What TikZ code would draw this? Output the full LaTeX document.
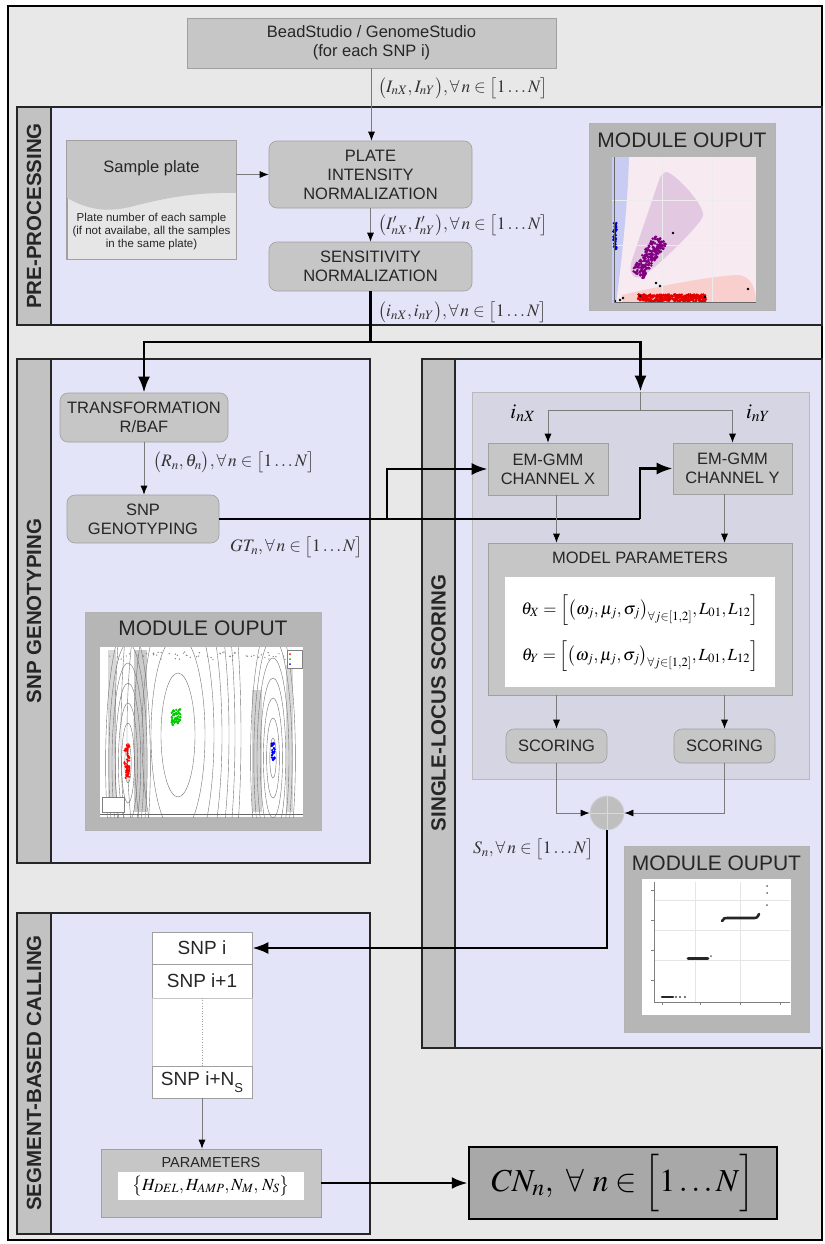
\documentclass[tikz,border=0pt]{standalone}
\usepackage{mathptmx}
\usepackage[no-math]{fontspec}
\setmainfont{Liberation Sans}
\usetikzlibrary{arrows.meta,calc}
\definecolor{outerbg}{HTML}{E8E8E8}
\definecolor{panelbg}{HTML}{E4E4F8}
\definecolor{stripc}{HTML}{C2C2C2}
\definecolor{boxc}{HTML}{C6C6C6}
\definecolor{boxb}{HTML}{A0A0A0}
\definecolor{innerc}{HTML}{D5D5E3}
\definecolor{modc}{HTML}{B6B6B6}
\definecolor{cnc}{HTML}{A8A8A8}
\definecolor{linec}{HTML}{7A7A7A}
\definecolor{lightdoc}{HTML}{E6E6E6}
\definecolor{p1bg}{HTML}{F7EAF1}
\definecolor{p1blue}{HTML}{C9CCF2}
\definecolor{p1purple}{HTML}{E3C8E2}
\definecolor{p1red}{HTML}{F8CFCC}
\definecolor{dotpurple}{HTML}{800080}
\begin{document}
\begin{tikzpicture}[x=1pt,y=-1pt,
 panel/.style={fill=panelbg,draw=black!85,line width=1.6pt},
 strip/.style={fill=stripc,draw=black!85,line width=1.6pt},
 striplabel/.style={rotate=90,font=\fontsize{20.5}{24}\selectfont\bfseries,text=black!85,inner sep=0pt},
 procbox/.style={fill=boxc,draw=boxb,line width=0.6pt,rounded corners=8pt,align=center,font=\fontsize{16.5}{19}\selectfont,text=black!85,inner sep=0pt},
 sqbox/.style={fill=boxc,draw=boxb,line width=0.6pt,align=center,font=\fontsize{16.5}{19}\selectfont,text=black!85,inner sep=0pt},
 snpbox/.style={fill=white,draw=boxb,line width=0.5pt,font=\fontsize{19}{22}\selectfont,text=black!85,inner sep=0pt,minimum width=100pt},
 modframe/.style={fill=modc,draw=boxb!80,line width=0.6pt,inner sep=0pt},
 modtitle/.style={font=\fontsize{21}{24}\selectfont,text=black!85,inner sep=0pt},
 thinline/.style={draw=linec,line width=0.8pt},
 thinarrow/.style={draw=linec,line width=0.8pt,-{Latex[length=9pt,width=7pt,black]}},
 thickline/.style={draw=black,line width=2.8pt},
 thickarrow/.style={draw=black,line width=2.8pt,-{Latex[length=16pt,width=12pt]}},
 lab/.style={font=\fontsize{17.5}{20}\selectfont,anchor=west,inner sep=0pt,text=black!80},
 contour/.style={draw=black!55,line width=0.4pt}
]
\useasboundingbox (0,0) rectangle (824,1244);
\fill[white] (0,0) rectangle (824,1244);
% outer frame
\draw[fill=outerbg,line width=2.5pt] (8,6) rectangle (822,1240);

% ---------------- panels ----------------
\draw[panel] (17,107) rectangle (822,325);
\draw[strip] (17,107) rectangle (51,325);
\node[striplabel] (lpre) at (34,216) {PRE-PROCESSING};

\draw[panel] (17,359) rectangle (370,863);
\draw[strip] (17,359) rectangle (51,863);
\node[striplabel] (lsnp) at (34,611) {SNP GENOTYPING};

\draw[panel] (422,359) rectangle (822,1048);
\draw[strip] (422,359) rectangle (455,1048);
\node[striplabel] (lslc) at (438.5,703) {SINGLE-LOCUS SCORING};

\draw[panel] (17,913) rectangle (370,1234);
\draw[strip] (17,913) rectangle (51,1234);
\node[striplabel] (lseg) at (34,1073) {SEGMENT-BASED CALLING};

% ---------------- top & pre-processing ----------------
\node[sqbox,minimum width=369pt,minimum height=50pt] (top) at (371.5,43) {BeadStudio / GenomeStudio\\(for each SNP i)};
\node[lab] (l1) at (378,88) {$\bigl(I_{nX},I_{nY}\bigr),\forall\, n\in\bigl[1\ldots N\bigr]$};

\node[procbox,minimum width=203pt,minimum height=67pt] (plate) at (370.5,174.5) {PLATE\\INTENSITY\\NORMALIZATION};
\node[procbox,minimum width=203pt,minimum height=49pt] (sens) at (370.5,266.5) {SENSITIVITY\\NORMALIZATION};
\node[lab] (l2) at (378,225) {$\bigl(I'_{nX},I'_{nY}\bigr),\forall\, n\in\bigl[1\ldots N\bigr]$};
\node[lab] (l3) at (378,312) {$\bigl(i_{nX},i_{nY}\bigr),\forall\, n\in\bigl[1\ldots N\bigr]$};

% sample plate (document shape)
\node[fill=lightdoc,draw=boxb,line width=0.6pt,minimum width=169pt,minimum height=118pt,inner sep=0pt] (sample) at (151.5,200) {};
\fill[boxc] (67,141) -- (236,141) -- (236,193) .. controls (195,192) and (165,198) .. (130,207) .. controls (100,214) and (82,206) .. (67,198) -- cycle;
\draw[boxb,line width=0.6pt] (sample.north west) rectangle (sample.south east);
\node[font=\fontsize{16.5}{19}\selectfont,text=black!85] (sptitle) at (151.5,168) {Sample plate};
\node[font=\fontsize{11.5}{13}\selectfont,text=black!85,align=center] (sptext) at (151.5,232) {Plate number of each sample\\(if not availabe, all the samples\\in the same plate)};

\draw[thinarrow] (top.south) -- (top.south |- plate.north);
\draw[thinarrow] (sample.east |- plate.west) -- (plate.west);
\draw[thinarrow] (plate.south) -- (sens.north);

% module output 1
\node[modframe,minimum width=186pt,minimum height=187pt] (mod1) at (682,216.5) {};
\node[modtitle] (mod1t) at (682,140) {MODULE OUPUT};
\begin{scope}
\clip (612,157) rectangle (756,303);
\fill[p1bg] (612,157) rectangle (756,303);
\fill[p1blue] (612,157) -- (629,157) .. controls (628,200) and (622,260) .. (616,303) -- (612,303) -- cycle;
\fill[p1purple] (666,172) .. controls (674,172) and (705,205) .. (703,216) .. controls (700,226) and (652,272) .. (641,277) .. controls (632,280) and (628,270) .. (632,260) -- (659,180) .. controls (661,175) .. (666,172) -- cycle;
\fill[p1red] (622,295) .. controls (660,286) and (700,278) .. (735,275) .. controls (752,274) and (756,290) .. (756,303) -- (622,303) -- cycle;
\draw[white!85!gray,line width=0.5pt] (662,157) -- (662,303) (712,157) -- (712,303) (612,245) -- (756,245) (612,200) -- (756,200);
\pgfmathsetseed{7}
\foreach \i in {1,...,45}{\fill[blue!85!black] ({615+1.8*rand},{236+13*rand}) circle[radius=1.3];}
\foreach \i in {1,...,220}{\pgfmathsetmacro\tt{rand}\pgfmathsetmacro\ss{rand}\fill[dotpurple] ({649+12*\tt+6*\ss},{257-18*\tt+4*\ss}) circle[radius=1.4];}
\foreach \i in {1,...,330}{\pgfmathsetmacro\tt{rand}\fill[red!90!black] ({672+34*\tt},{298+3.5*rand}) circle[radius=1.4];}
\foreach \p in {(615,301),(620,300),(623,298),(656,283),(660,286),(673,233),(705,297),(748,289),(640,296)}{\fill[black] \p circle[radius=1.3];}
\draw[black!60,line width=0.5pt] (614,157) -- (614,302) -- (756,302);
\end{scope}

% bus
\coordinate (bus) at (370.5,342);
\draw[thickline] (sens.south) -- (bus);

% ---------------- SNP genotyping ----------------
\node[procbox,minimum width=168pt,minimum height=49pt] (trans) at (144,417.5) {TRANSFORMATION\\R/BAF};
\node[procbox,minimum width=152pt,minimum height=48pt] (snpg) at (143,519) {SNP\\GENOTYPING};
\draw[thinarrow] (trans.south) -- (trans.south |- snpg.north);
\node[lab] (l4) at (153,462) {$\bigl(R_n,\theta_n\bigr),\forall\, n\in\bigl[1\ldots N\bigr]$};
\node[lab] (l5) at (230,547) {$GT_n,\forall\, n\in\bigl[1\ldots N\bigr]$};

% module output 2
\node[modframe,minimum width=236pt,minimum height=218pt] (mod2) at (203,721) {};
\node[modtitle] (mod2t) at (203,628) {MODULE OUPUT};
\begin{scope}
\clip (100,647) rectangle (303,817);
\fill[white] (100,647) rectangle (303,817);
\fill[gray!40] (134,650) rectangle (147,812);
\fill[gray!30] (108,650) rectangle (116,812);
\fill[gray!35] (252,690) rectangle (262,812);
\fill[gray!30] (286,665) rectangle (293,812);
\foreach \r in {1,...,7}{\draw[contour] (128,763) ellipse [x radius={3.2*\r}, y radius={20*\r}];}
\foreach \rx/\ry in {17/62,27/100,36/140,44/180,51/220,57/260,63/300}{\draw[contour] (178,735) ellipse [x radius=\rx, y radius=\ry];}
\foreach \r in {1,...,7}{\draw[contour] (273,758) ellipse [x radius={3.2*\r}, y radius={20*\r}];}
\pgfmathsetseed{11}
\foreach \i in {1,...,60}{\fill[red] ({127+2.5*rand},{762+17*rand}) circle[radius=1.2];}
\foreach \i in {1,...,60}{\fill[green!80!black] ({176+4.5*rand},{717+8*rand}) circle[radius=1.2];}
\foreach \i in {1,...,30}{\fill[blue] ({273+1.8*rand},{752+9*rand}) circle[radius=1.2];}
\foreach \i in {1,...,60}{\fill[gray] ({105+190*rnd},{652+8*rnd}) circle[radius=0.7];}
\draw[black!50,line width=0.4pt,fill=white] (287,650) rectangle (302,668);
\fill[red] (290,654) circle[radius=1]; \fill[green!70!black] (290,659) circle[radius=1]; \fill[blue] (290,664) circle[radius=1];
\draw[black!50,line width=0.4pt,fill=white] (102,797) rectangle (124,812);
\draw[black!60,line width=0.4pt] (100,814) -- (303,814);
\end{scope}

% ---------------- single-locus scoring ----------------
\node[fill=innerc,draw=gray!55,line width=0.6pt,minimum width=337pt,minimum height=387pt,inner sep=0pt] (inner) at (640.5,585.5) {};
\draw[thickarrow] (bus) -| (trans.north);
\draw[thickarrow] (bus) -| (inner.north);

\node[sqbox,minimum width=120pt,minimum height=52pt] (emx) at (548,469) {EM-GMM\\CHANNEL X};
\node[sqbox,minimum width=119pt,minimum height=51pt] (emy) at (732.5,468.5) {EM-GMM\\CHANNEL Y};
\node[font=\fontsize{21}{22}\selectfont,inner sep=0pt] (inx) at (523,413) {$i_{nX}$};
\node[font=\fontsize{21}{22}\selectfont,inner sep=0pt] (iny) at (758,413) {$i_{nY}$};
\coordinate (split) at (640.5,410);
\draw[thinline] (inner.north) -- (split);
\draw[thinarrow] (split) -| (emx.north);
\draw[thinarrow] (split) -| (emy.north);

% GT connections
\coordinate (gtA) at (387,519);
\coordinate (gtB) at (640,519);
\draw[thickline] (snpg.east) -- (gtB);
\draw[thickarrow] (gtA) |- (emx.west);
\draw[thickarrow] (gtB) |- (emy.west);

\node[sqbox,minimum width=304pt,minimum height=152pt] (params) at (640,619) {};
\node[font=\fontsize{16.5}{19}\selectfont,text=black!85,inner sep=0pt] (paramst) at (640,558) {MODEL PARAMETERS};
\fill[white] (505,577) rectangle (775,687);
\node[font=\fontsize{17}{20}\selectfont,inner sep=0pt] (eqx) at (640,610) {$\theta_X = \Bigl[\bigl(\omega_j,\mu_j,\sigma_j\bigr)_{\forall j\in[1,2]},L_{01},L_{12}\Bigr]$};
\node[font=\fontsize{17}{20}\selectfont,inner sep=0pt] (eqy) at (640,656) {$\theta_Y = \Bigl[\bigl(\omega_j,\mu_j,\sigma_j\bigr)_{\forall j\in[1,2]},L_{01},L_{12}\Bigr]$};

\node[procbox,minimum width=101pt,minimum height=34pt] (scx) at (556.5,746) {SCORING};
\node[procbox,minimum width=101pt,minimum height=34pt] (scy) at (724.5,746) {SCORING};
\draw[thinarrow] (emx.south -| scx.north) -- (params.north -| scx.north);
\draw[thinarrow] (emy.south -| scy.north) -- (params.north -| scy.north);
\draw[thinarrow] (params.south -| scx.north) -- (scx.north);
\draw[thinarrow] (params.south -| scy.north) -- (scy.north);

\node[circle,fill=gray!50,draw=gray!35,line width=0.8pt,minimum size=34pt,inner sep=0pt] (sum) at (607,813) {};
\draw[gray!30,line width=0.6pt] (sum.north) -- (sum.south) (sum.west) -- (sum.east);
\draw[thinarrow] (scx.south) |- (sum.west);
\draw[thinarrow] (scy.south) |- (sum.east);
\node[lab] (l6) at (473,849) {$S_n,\forall\, n\in\bigl[1\ldots N\bigr]$};

% module output 3
\node[modframe,minimum width=185pt,minimum height=186pt] (mod3) at (716.5,939) {};
\node[modtitle] (mod3t) at (716.5,863) {MODULE OUPUT};
\begin{scope}
\clip (642,879) rectangle (791,1015);
\fill[white] (642,879) rectangle (791,1015);
\draw[gray!20,line width=0.4pt] (695,882) -- (695,1002) (740,882) -- (740,1002) (654,900) -- (790,900) (654,930) -- (790,930) (654,960) -- (790,960);
\draw[black!50,line width=0.5pt] (654,882) -- (654,1002) -- (790,1002);
\foreach \y in {890,920,950,980}{\draw[black!50,line width=0.4pt] (651,\y) -- (654,\y);}
\foreach \x in {662,700,740,780}{\draw[black!50,line width=0.4pt] (\x,1002) -- (\x,1005);}
\draw[black!85,line width=2.6pt,line cap=round] (662,997) -- (673,997);
\foreach \x in {676,680,685}{\fill[black!70] (\x,997) circle[radius=1.1];}
\draw[black!85,line width=2.6pt,line cap=round] (688,958.5) -- (708,958.5);
\fill[black!60] (711,956) circle[radius=1];
\draw[black!85,line width=2.6pt,line cap=round] (722,921) .. controls (724,918) .. (729,918) -- (752,918) .. controls (757,918) .. (759,914);
\foreach \y in {886,893,905}{\fill[black!60] (767,\y) circle[radius=1];}
\end{scope}

% ---------------- segment-based calling ----------------
\node[snpbox,minimum height=32pt] (snpi) at (202,948) {SNP i};
\node[snpbox,minimum height=34pt] (snpi1) at (202,981) {SNP i+1};
\node[fill=white,draw=boxb!60,line width=0.4pt,minimum width=100pt,minimum height=68pt,inner sep=0pt] (gap) at (202,1032) {};
\draw[boxb,dotted,line width=0.6pt] (gap.north) -- (gap.south);
\node[snpbox,minimum height=32pt] (snpiN) at (202,1082) {SNP i+N\raisebox{-0.35em}{\fontsize{13}{13}\selectfont S}};

\node[sqbox,minimum width=220pt,minimum height=68pt] (paramsB) at (211,1183) {};
\node[font=\fontsize{14.5}{17}\selectfont,text=black!85,inner sep=0pt] (paramsBt) at (211,1162) {PARAMETERS};
\fill[white] (118,1172) rectangle (304,1200);
\node[font=\fontsize{17}{20}\selectfont,inner sep=0pt] (eqBt) at (211,1186) {$\bigl\{H_{DEL},H_{AMP},N_M,\,N_S\bigr\}$};
\draw[thinarrow] (snpiN.south) -- (snpiN.south |- paramsB.north);

\node[fill=cnc,draw=black,line width=2.5pt,minimum width=308pt,minimum height=72pt,inner sep=0pt,font=\fontsize{32}{36}\selectfont] (cn) at (623,1183) {$CN_n,\ \forall\ n\in\Bigl[1\ldots N\Bigr]$};
\draw[thickarrow] (paramsB.east) -- (cn.west);

% scores to segment
\draw[thickarrow] (sum.south) |- (snpi.east);
\end{tikzpicture}
\end{document}
